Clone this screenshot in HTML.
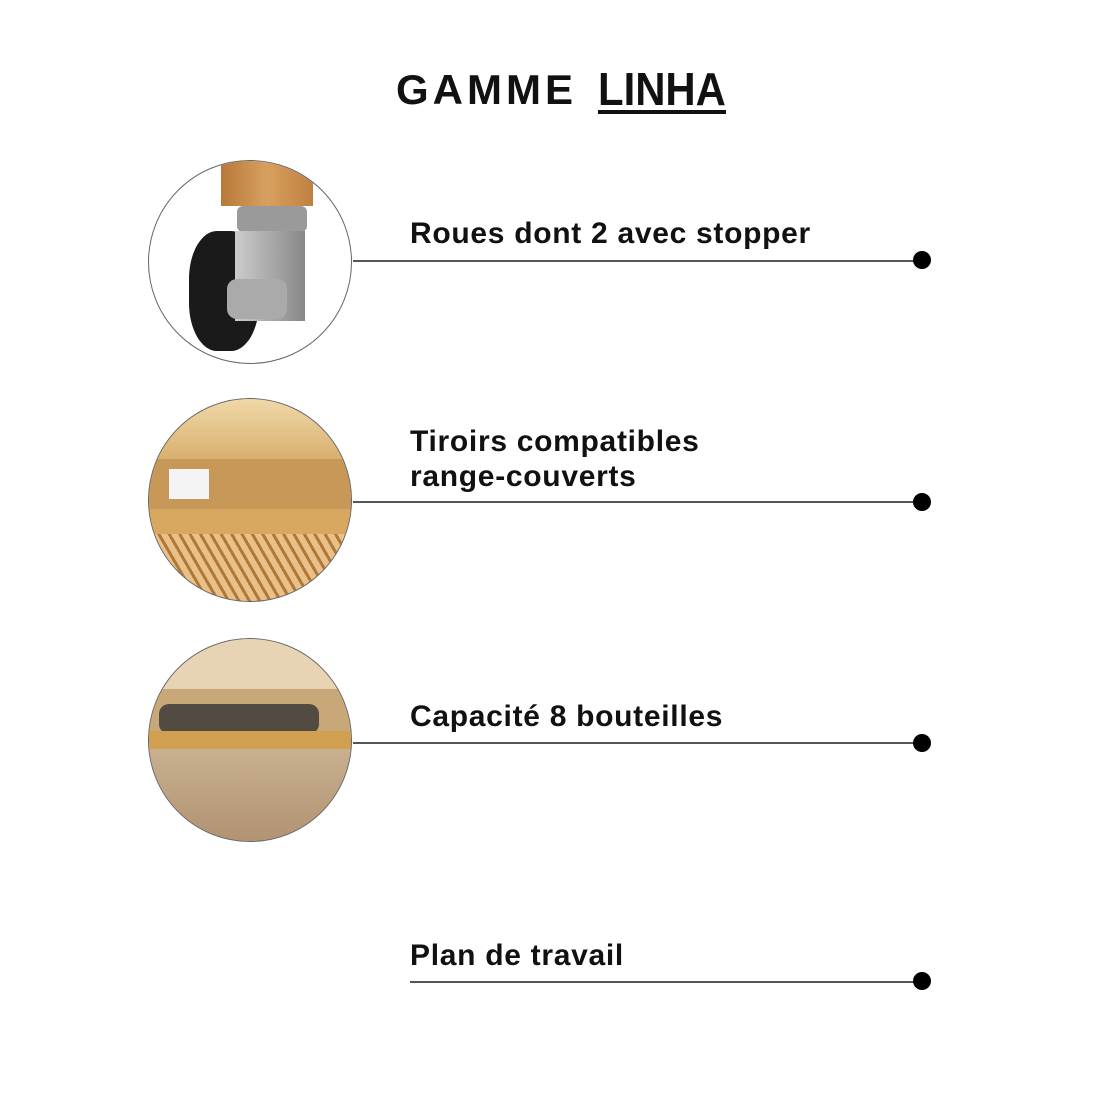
<!DOCTYPE html>
<html><head><meta charset="utf-8"><style>
body{margin:0;width:1120px;height:1120px;background:#fff;position:relative;overflow:hidden;font-family:"Liberation Sans",sans-serif}
.t{position:absolute;font-weight:bold;font-size:30px;color:#111;letter-spacing:0.7px;line-height:35px}
.ln{position:absolute;height:2px;background:#555}
.dot{position:absolute;width:18px;height:18px;border-radius:50%;background:#000}
.c{position:absolute;width:204px;height:204px;border-radius:50%;overflow:hidden;border:1px solid #666;box-sizing:border-box}
</style></head><body>
<div style="position:absolute;left:396px;top:66px;font-weight:bold;font-size:42px;letter-spacing:4px;color:#111">GAMME</div>
<div style="position:absolute;left:598px;top:62px;font-weight:bold;font-size:46px;color:#111;transform:scaleX(0.91);transform-origin:left">LINHA</div>
<div style="position:absolute;left:598px;top:110px;width:128px;height:4px;background:#111"></div>

<div class="c" style="left:148px;top:160px;background:#fff">
 <div style="position:absolute;left:72px;top:-5px;width:92px;height:50px;background:linear-gradient(90deg,#b8793a,#d8a060,#c08040)"></div>
 <div style="position:absolute;left:88px;top:45px;width:70px;height:26px;background:#9a9a9a;border-radius:6px"></div>
 <div style="position:absolute;left:40px;top:70px;width:70px;height:120px;background:#1a1a1a;border-radius:40%"></div>
 <div style="position:absolute;left:86px;top:70px;width:70px;height:90px;background:linear-gradient(90deg,#ccc,#888)"></div>
 <div style="position:absolute;left:78px;top:118px;width:60px;height:40px;background:#aaa;border-radius:10px"></div>
</div>
<div class="c" style="left:148px;top:398px;background:#e0b878">
 <div style="position:absolute;left:0;top:0;width:204px;height:60px;background:linear-gradient(#f0d8a8,#d8b070)"></div>
 <div style="position:absolute;left:0;top:60px;width:204px;height:50px;background:#c89858"></div>
 <div style="position:absolute;left:20px;top:70px;width:40px;height:30px;background:#f4f4f4"></div>
 <div style="position:absolute;left:0;top:110px;width:204px;height:25px;background:#d8a860"></div>
 <div style="position:absolute;left:0;top:135px;width:204px;height:70px;background:repeating-linear-gradient(60deg,#e8c088 0 6px,#b07838 6px 9px)"></div>
</div>
<div class="c" style="left:148px;top:638px;background:#d8c0a0">
 <div style="position:absolute;left:0;top:0;width:204px;height:50px;background:#e8d4b4"></div>
 <div style="position:absolute;left:0;top:50px;width:204px;height:55px;background:#c8a878"></div>
 <div style="position:absolute;left:10px;top:65px;width:160px;height:30px;background:#333;border-radius:10px;opacity:.8"></div>
 <div style="position:absolute;left:0;top:92px;width:204px;height:18px;background:#d0a050"></div>
 <div style="position:absolute;left:0;top:110px;width:204px;height:100px;background:linear-gradient(#c8b090,#b09070)"></div>
</div>

<div class="t" style="left:410px;top:216px">Roues dont 2 avec stopper</div>
<div class="ln" style="left:353px;top:260px;width:570px"></div><div class="dot" style="left:913px;top:251px"></div>

<div class="t" style="left:410px;top:424px">Tiroirs compatibles<br>range-couverts</div>
<div class="ln" style="left:353px;top:501px;width:570px"></div><div class="dot" style="left:913px;top:493px"></div>

<div class="t" style="left:410px;top:699px">Capacité 8 bouteilles</div>
<div class="ln" style="left:353px;top:742px;width:570px"></div><div class="dot" style="left:913px;top:734px"></div>

<div class="t" style="left:410px;top:938px">Plan de travail</div>
<div class="ln" style="left:410px;top:981px;width:513px"></div><div class="dot" style="left:913px;top:972px"></div>
</body></html>
